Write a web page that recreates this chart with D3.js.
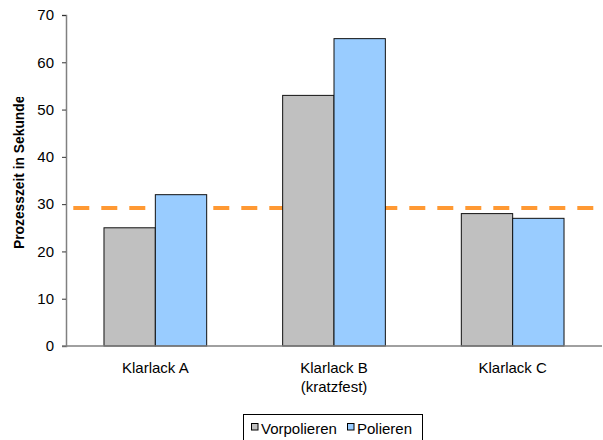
<!DOCTYPE html>
<html><head><meta charset="utf-8">
<script src="https://cdn.jsdelivr.net/npm/d3@7"></script>
<style>body{margin:0;background:#fff}svg{display:block;font-family:"Liberation Sans",Arial,sans-serif}</style>
</head><body>
<script>
const categories = [["Klarlack A"], ["Klarlack B", "(kratzfest)"], ["Klarlack C"]];
const seriesNames = ["Vorpolieren", "Polieren"];
const vorpolieren = [25, 53, 28];
const polieren = [32, 65, 27];
const referenceLine = 29.2;
const yTicks = [0, 10, 20, 30, 40, 50, 60, 70];
const colors = ["#C0C0C0", "#99CCFF"];

const W = 603, H = 440;
const svg = d3.select("body").append("svg").attr("width", W).attr("height", H);
const x0 = 66, x1 = 602, yTop = 15, yBot = 346;
const groupW = 102.7;

const x = d3.scaleBand().domain(d3.range(categories.length)).range([x0, x1]);
const xs = d3.scaleBand().domain([0, 1]).range([0, groupW]);
const y = d3.scaleLinear().domain([0, 70]).range([yBot, yTop]);

// reference line (behind bars)
svg.append("line").attr("x1", 73.3).attr("x2", 594)
  .attr("y1", y(referenceLine)).attr("y2", y(referenceLine))
  .attr("stroke", "#FF9933").attr("stroke-width", 4).attr("stroke-dasharray", "16,12");

// bars
const series = [vorpolieren, polieren];
series.forEach((vals, si) => {
  svg.append("g").selectAll("rect").data(vals).join("rect")
    .attr("x", (d, i) => x(i) + (x.bandwidth() - groupW) / 2 + xs(si))
    .attr("y", d => y(d))
    .attr("width", xs.bandwidth())
    .attr("height", d => yBot - y(d))
    .attr("fill", colors[si])
    .attr("stroke", "#111").attr("stroke-width", 1);
});

// y axis
const yAxis = d3.axisLeft(y).tickValues(yTicks).tickSize(4).tickPadding(8);
const ga = svg.append("g").attr("transform", `translate(${x0},0)`).call(yAxis);
ga.select(".domain").attr("stroke", "#808080").attr("stroke-width", 1.5);
ga.selectAll(".tick line").attr("stroke", "#333");
ga.selectAll("text").attr("font-size", 15).attr("fill", "#000").attr("font-family", "Liberation Sans, Arial, sans-serif");

// x axis baseline
svg.append("line").attr("x1", x0 - 4).attr("x2", x1).attr("y1", yBot).attr("y2", yBot)
  .attr("stroke", "#808080").attr("stroke-width", 1.5);

// category labels
categories.forEach((lines, i) => {
  const t = svg.append("text").attr("text-anchor", "middle").attr("font-size", 15).attr("fill", "#000");
  lines.forEach((l, j) => t.append("tspan").attr("x", x(i) + x.bandwidth() / 2).attr("y", 373 + j * 18.5).text(l));
});

// y axis title (clipped like the original)
svg.append("clipPath").attr("id", "tclip").append("rect").attr("x", 0).attr("y", 97).attr("width", 40).attr("height", 200);
svg.append("g").attr("clip-path", "url(#tclip)")
  .append("text").attr("transform", "translate(24,249) rotate(-90)")
  .attr("text-anchor", "start").attr("font-size", 13.8).attr("font-weight", "bold")
  .text("Prozesszeit in Sekunden");

// legend
const lg = svg.append("g");
lg.append("rect").attr("x", 243.5).attr("y", 414.5).attr("width", 179).attr("height", 30)
  .attr("fill", "#fff").attr("stroke", "#000").attr("stroke-width", 1);
const legX = [251.5, 347.5];
seriesNames.forEach((n, i) => {
  lg.append("rect").attr("x", legX[i]).attr("y", 423.5).attr("width", 6.5).attr("height", 6.5)
    .attr("fill", colors[i]).attr("stroke", "#000").attr("stroke-width", 1);
  lg.append("text").attr("x", legX[i] + 9.5).attr("y", 434).attr("font-size", 15).text(n);
});
</script>
</body></html>
